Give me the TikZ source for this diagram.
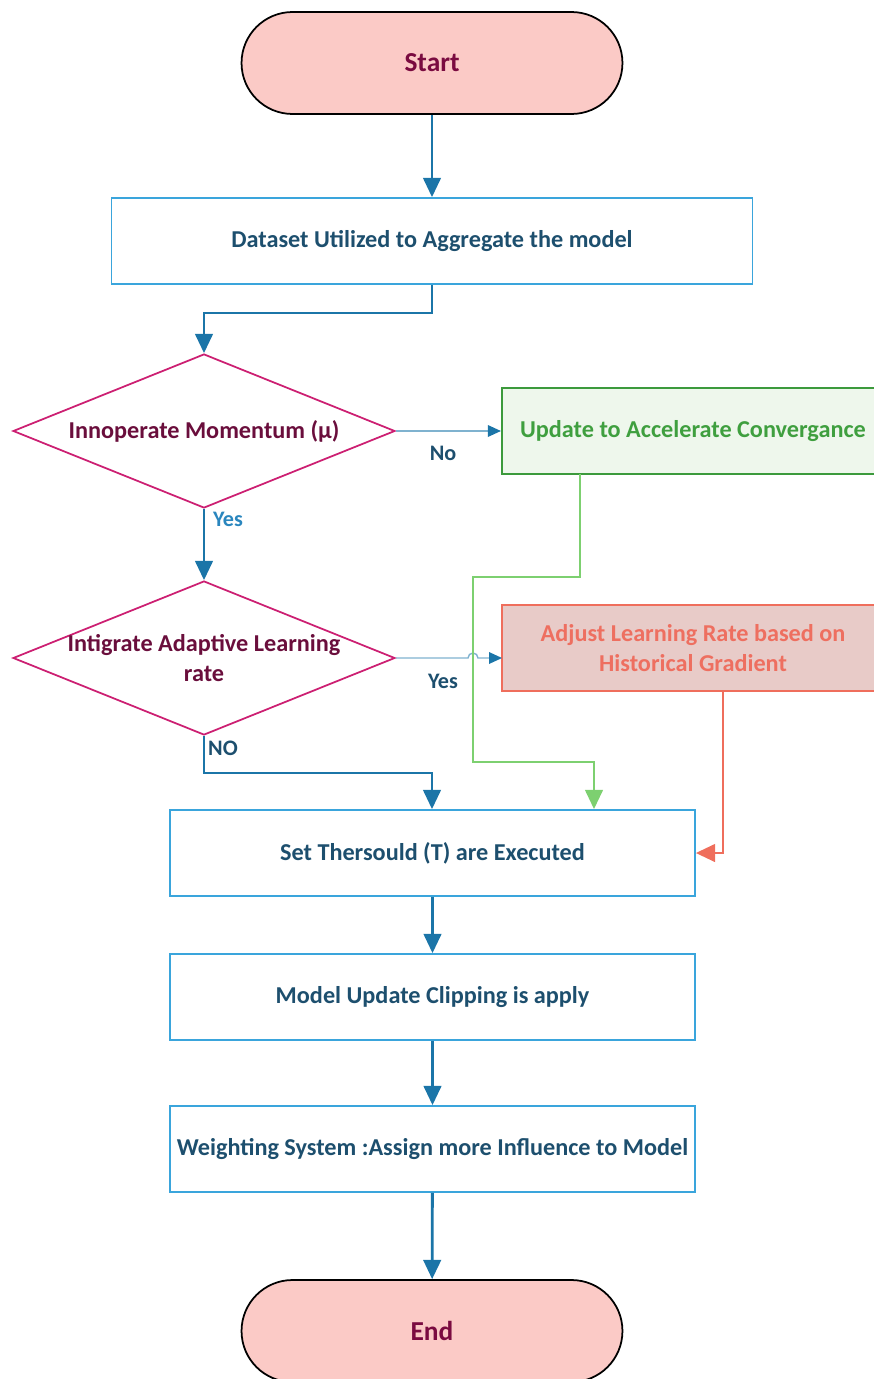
\documentclass[tikz,border=0pt]{standalone}
\usepackage{fontspec}
\setmainfont{Carlito}
\usepackage{xcolor}
\usetikzlibrary{arrows.meta,shapes.geometric,calc}
\definecolor{flowBlue}{HTML}{1B75A8}
\definecolor{thinBlue}{HTML}{7FB2CF}
\definecolor{boxBlue}{HTML}{3AA5DC}
\definecolor{txtBlue}{HTML}{1D4F6E}
\definecolor{lblBlue}{HTML}{2A86BE}
\definecolor{decMag}{HTML}{CC1F72}
\definecolor{decTxt}{HTML}{6A0E3C}
\definecolor{termFill}{HTML}{FBCAC6}
\definecolor{termTxt}{HTML}{7A0B40}
\definecolor{accDraw}{HTML}{3C9A3C}
\definecolor{accFill}{HTML}{EEF7EC}
\definecolor{accTxt}{HTML}{3F9F3F}
\definecolor{accLine}{HTML}{7DD070}
\definecolor{adjDraw}{HTML}{EF6E5C}
\definecolor{adjFill}{HTML}{E8CBC8}
\definecolor{adjTxt}{HTML}{EE6F60}
\tikzset{
  fArrow/.style={draw=flowBlue,line width=1.6pt,-{Triangle[length=11pt,width=10pt]}},
  thinLine/.style={draw=thinBlue,line width=0.8pt},
  gArrow/.style={draw=accLine,line width=1.6pt,-{Triangle[length=11pt,width=10pt]}},
  rArrow/.style={draw=adjDraw,line width=1.6pt,-{Triangle[length=11pt,width=10pt]}},
  kTerm/.style={rectangle,rounded corners=1.02cm,draw=black,line width=1pt,fill=termFill,
        minimum width=7.62cm,minimum height=2.04cm,font=\fontsize{15.6}{18}\selectfont\bfseries,text=termTxt},
  kStep/.style={rectangle,draw=boxBlue,line width=1pt,fill=white,minimum height=1.72cm,
        font=\fontsize{13.8}{16}\selectfont\bfseries,text=txtBlue,align=center},
  kDec/.style={diamond,draw=decMag,line width=1pt,minimum width=7.64cm,minimum height=3.08cm,
        inner sep=0pt},
  kDecTxt/.style={font=\fontsize{13.8}{17}\selectfont\bfseries,text=decTxt,align=center},
  kAcc/.style={rectangle,draw=accDraw,line width=1.3pt,fill=accFill,minimum height=1.72cm,
        font=\fontsize{13.8}{16}\selectfont\bfseries,text=accTxt,align=center},
  kAdj/.style={rectangle,draw=adjDraw,line width=1.3pt,fill=adjFill,minimum height=1.72cm,
        font=\fontsize{13.8}{17}\selectfont\bfseries,text=adjTxt,align=center},
  kLbl/.style={font=\fontsize{12.6}{14}\selectfont\bfseries,text=txtBlue},
}
\begin{document}
\begin{tikzpicture}[x=0.02cm,y=-0.02cm]
\useasboundingbox (0,0) rectangle (874,1379);
\node[kTerm] (start) at (432,63) {Start};
\node[kStep,minimum width=12.82cm] (data) at (432,241) {Dataset Utilized to Aggregate the model};
\node[kDec,label={[kDecTxt]center:Innoperate Momentum (µ)}] (mom) at (204,431) {};
\node[kAcc,minimum width=7.84cm] (acc) at (698,431) {\hspace*{-0.2cm}Update to Accelerate Convergance};
\node[kDec,label={[kDecTxt]center:{Intigrate Adaptive Learning\\rate}}] (ada) at (204,658) {};
\node[kAdj,minimum width=7.84cm] (adj) at (698,648) {\hspace*{-0.2cm}Adjust Learning Rate based on\\\hspace*{-0.2cm}Historical Gradient};
\node[kStep,minimum width=10.5cm] (thr) at (432.5,853) {Set Thersould (T) are Executed};
\node[kStep,minimum width=10.5cm] (clip) at (432.5,997) {Model Update Clipping is apply};
\node[kStep,minimum width=10.5cm] (wgt) at (432.5,1149) {Weighting System :Assign more Influence to Model};
\node[kTerm] (end) at (432,1331) {End};
% main flow
\draw[fArrow] (start) -- (data);
\draw[fArrow] (data.south) -- (432,313) -| (mom.north);
\draw[fArrow] (mom.south) -- (ada.north);
\draw[fArrow] (ada.south) |- (432,773) -- (thr.north -| 432,0);
\draw[fArrow] (thr) -- (clip);
\draw[fArrow] (clip) -- (wgt);
\draw[fArrow] (wgt) -- (end);
% side branches
\draw[thinLine] (mom.east) -- (490,431);
\draw[thinLine] (ada.east) -- (468,658) arc (180:0:0.1cm) -- (490,658);
\fill[flowBlue] (acc.west) -- ++(-13,-6) -- ++(0,12) -- cycle;
\fill[flowBlue] (502,658) -- ++(-13,-6) -- ++(0,12) -- cycle;
\draw[gArrow] (580,474) -- (580,577) -- (473,577) -- (473,762) -- (594,762) -- (thr.north -| 594,0);
\draw[rArrow] (723,691) |- (thr.east);
% labels
\node[kLbl] (lNo) at (443,453) {No};
\node[kLbl,text=lblBlue] (lYes) at (228,519) {Yes};
\node[kLbl] (lYes2) at (443,681) {Yes};
\node[kLbl] (lNO) at (223,748) {NO};
\end{tikzpicture}
\end{document}
